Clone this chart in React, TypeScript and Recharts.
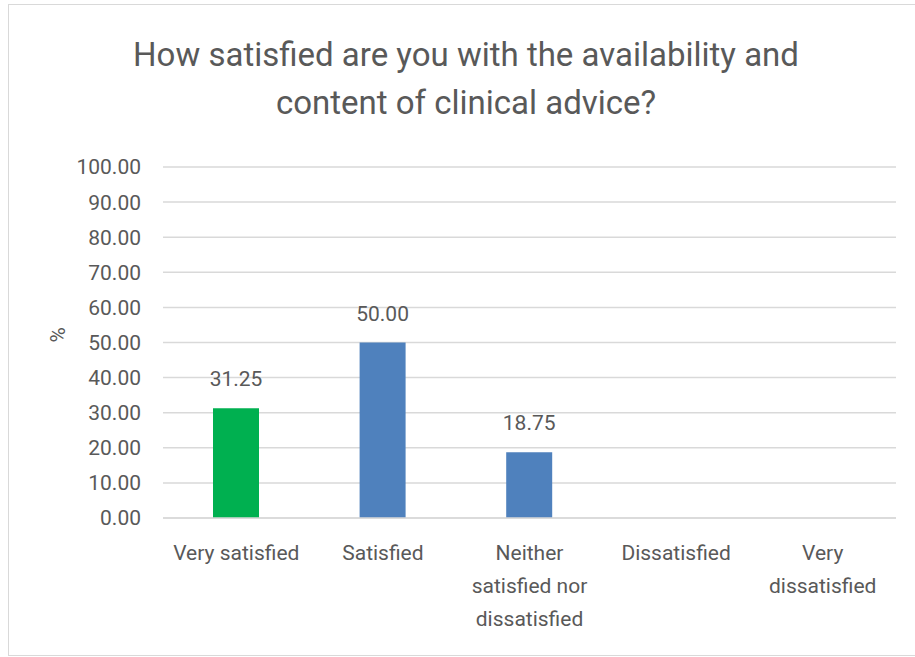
import React from "react";
import { BarChart, Bar, XAxis, YAxis, CartesianGrid, Cell, LabelList } from "recharts";

const categories = [
  "Very satisfied",
  "Satisfied",
  "Neither satisfied nor dissatisfied",
  "Dissatisfied",
  "Very dissatisfied",
];
const categoryLines = [
  ["Very satisfied"],
  ["Satisfied"],
  ["Neither", "satisfied nor", "dissatisfied"],
  ["Dissatisfied"],
  ["Very", "dissatisfied"],
];
const percentValues = [31.25, 50.0, 18.75, null, null];
const barColors = ["#00B050", "#4F81BD", "#4F81BD", "#4F81BD", "#4F81BD"];
const yTicks = [0, 10, 20, 30, 40, 50, 60, 70, 80, 90, 100];

const data = categories.map((name, i) => ({ name, value: percentValues[i] }));

const FONT = "Roboto, 'Liberation Sans', sans-serif";
const TEXT = "#595959";

function CategoryTick(props: any) {
  const { x, y, index } = props;
  const lines = categoryLines[index] || [];
  return (
    <g>
      {lines.map((line, i) => (
        <text
          key={i}
          x={x}
          y={y + 40 + i * 33}
          textAnchor="middle"
          fill={TEXT}
          fontSize={21}
          fontFamily={FONT}
        >
          {line}
        </text>
      ))}
    </g>
  );
}

export default function App() {
  return (
    <div
      style={{
        position: "absolute",
        top: 0,
        left: 0,
        width: 915,
        height: 657,
        background: "#fff",
        overflow: "hidden",
        fontFamily: FONT,
      }}
    >
      <div
        style={{
          position: "absolute",
          left: 8,
          top: 4,
          width: 920,
          height: 650,
          border: "1.5px solid #D9D9D9",
        }}
      />
      <div
        style={{
          position: "absolute",
          top: 31,
          left: 0,
          width: 932,
          textAlign: "center",
          color: TEXT,
          fontSize: 33,
          lineHeight: "48px",
        }}
      >
        How satisfied are you with the availability and
        <br />
        content of clinical advice?
      </div>
      <div style={{ position: "absolute", top: 0, left: 0 }}>
        <BarChart
          width={915}
          height={657}
          data={data}
          margin={{ top: 167, right: 19, bottom: 0, left: 0 }}
        >
          <CartesianGrid vertical={false} stroke="#D9D9D9" strokeWidth={1.5} />
          <XAxis
            dataKey="name"
            axisLine={{ stroke: "#D9D9D9", strokeWidth: 1.5 }}
            tickLine={false}
            tickSize={0}
            interval={0}
            tick={<CategoryTick />}
            height={139}
          />
          <YAxis
            width={163}
            domain={[0, 100]}
            ticks={yTicks}
            interval={0}
            axisLine={false}
            tickLine={false}
            tickSize={0}
            tickMargin={22}
            tickFormatter={(v: number) => v.toFixed(2)}
            tick={{ fill: TEXT, fontSize: 21, fontFamily: FONT }}
            label={{
              value: "%",
              angle: -90,
              position: "insideLeft",
              offset: 58,
              fill: TEXT,
              fontSize: 21,
              fontFamily: FONT,
            }}
          />
          <Bar dataKey="value" barSize={46} isAnimationActive={false}>
            {data.map((d, i) => (
              <Cell key={d.name} fill={barColors[i]} />
            ))}
            <LabelList
              dataKey="value"
              position="top"
              offset={22}
              fill={TEXT}
              fontSize={21}
              fontFamily={FONT}
              formatter={(v: any) => (v == null ? "" : Number(v).toFixed(2))}
            />
          </Bar>
        </BarChart>
      </div>
    </div>
  );
}
